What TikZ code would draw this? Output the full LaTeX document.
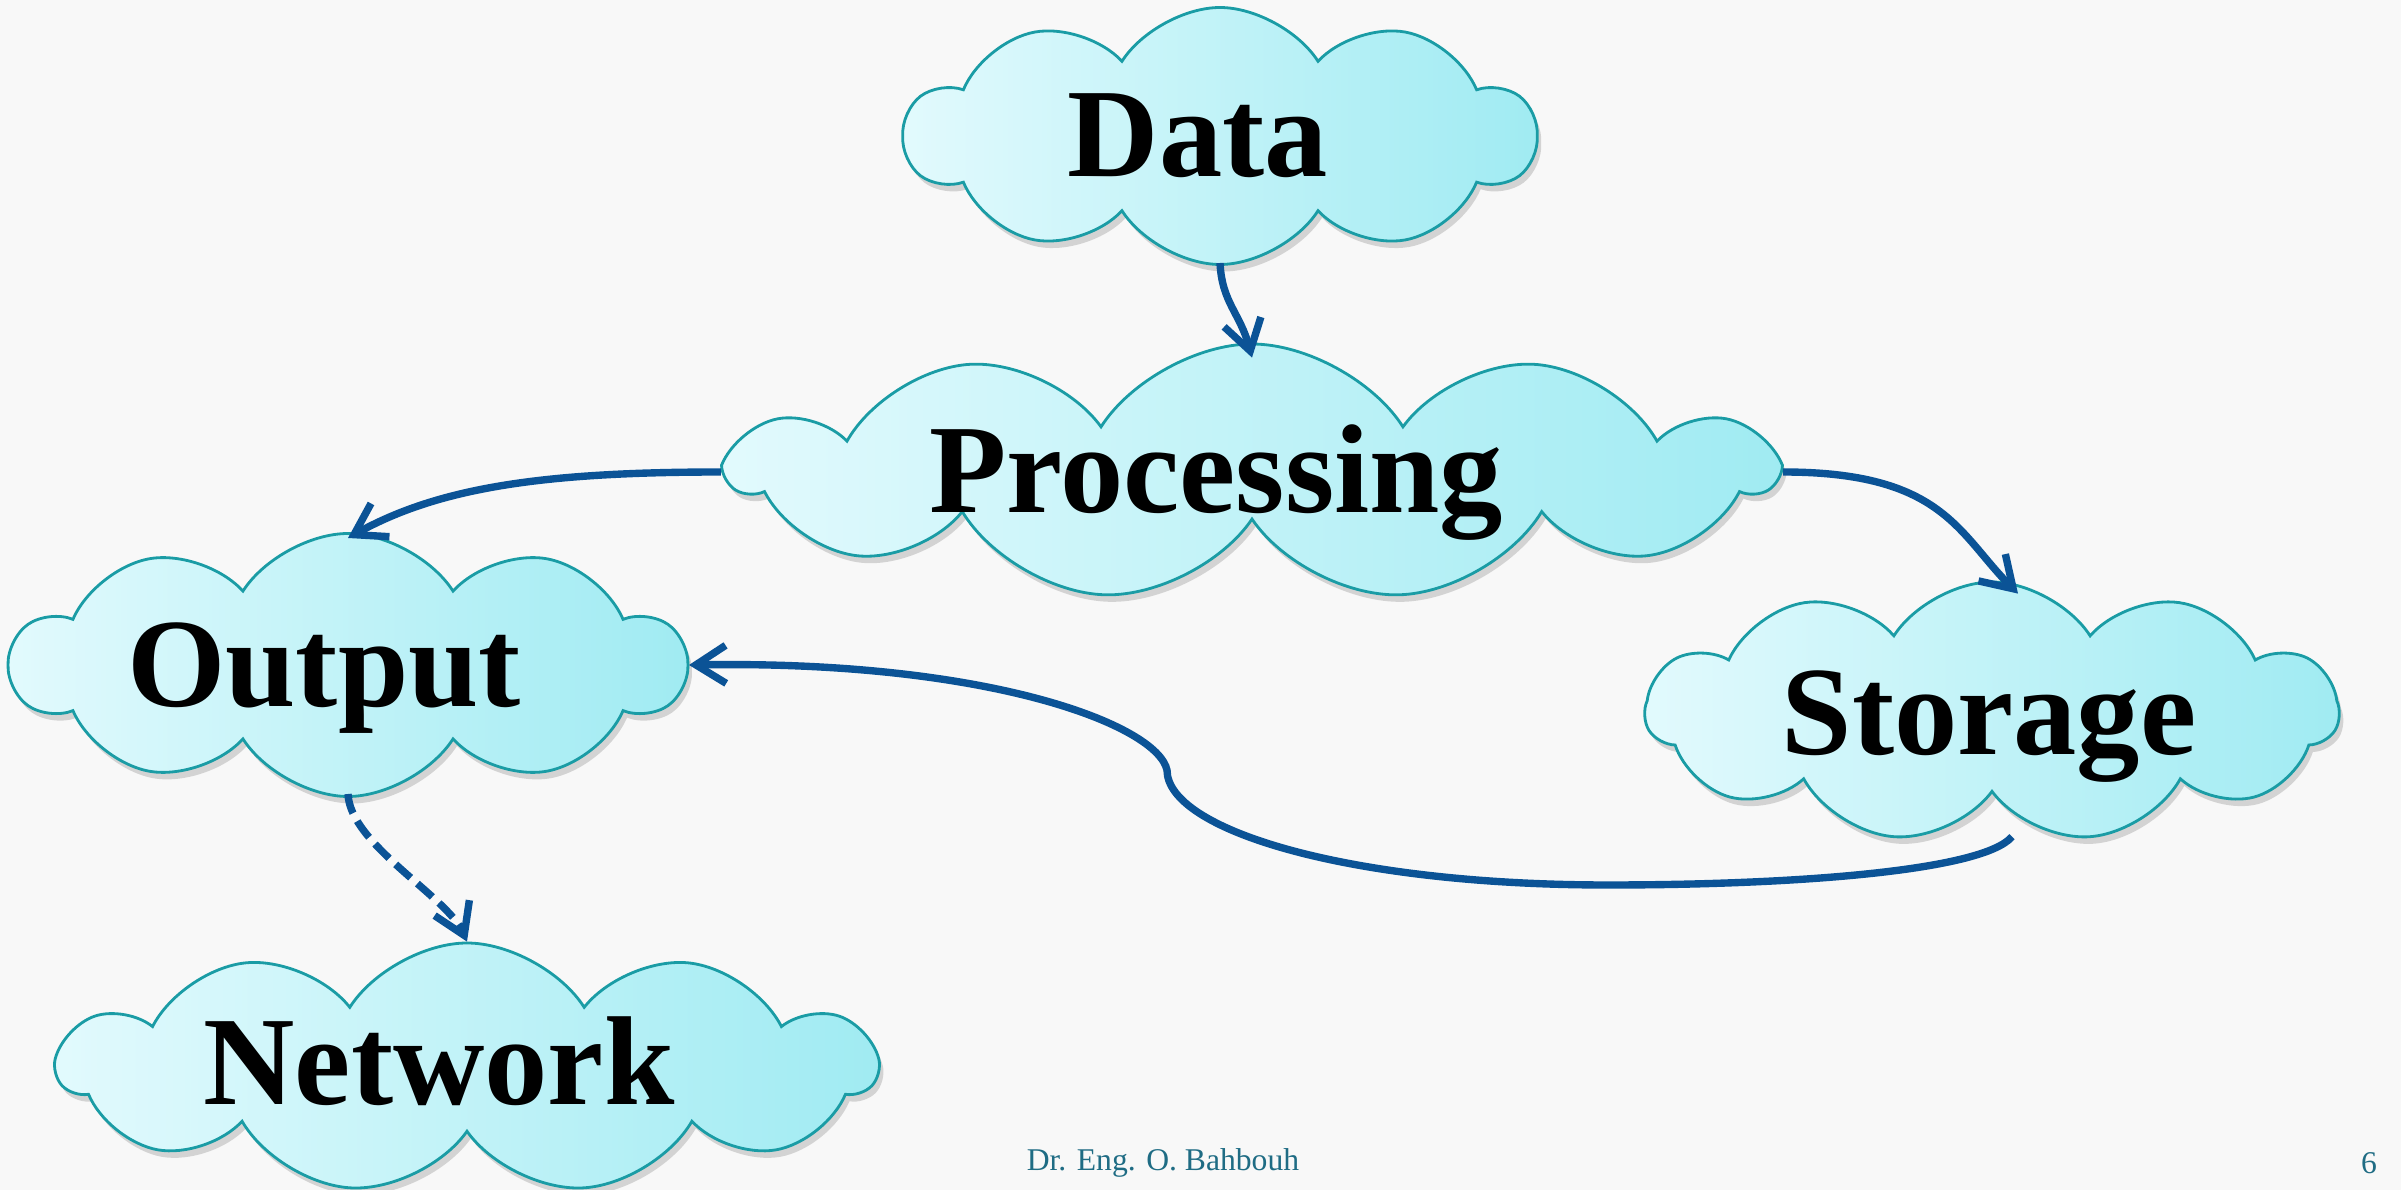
\documentclass[tikz,border=0pt]{standalone}
\usepackage{fontspec}
\setmainfont{Liberation Serif}
\usetikzlibrary{shapes.symbols,shadows,arrows.meta}
\definecolor{puffline}{HTML}{1A9CA5}
\definecolor{pufflight}{HTML}{E2FAFD}
\definecolor{puffdark}{HTML}{A0EBF2}
\definecolor{flowblue}{HTML}{0B5396}
\definecolor{footcol}{HTML}{1F6C84}
\definecolor{paper}{HTML}{F8F8F8}

\begin{document}
\begin{tikzpicture}[
  puff/.style={cloud, cloud puffs=11, cloud puff arc=115, cloud ignores aspect,
    draw=puffline, line width=0.8pt, left color=pufflight, right color=puffdark,
    drop shadow={shadow xshift=0.04cm, shadow yshift=-0.07cm, opacity=0.3},
    inner sep=0pt},
  word/.style={anchor=base, font=\fontsize{36}{40}\selectfont\bfseries},
  foot/.style={text=footcol, font=\fontsize{9}{11}\selectfont},
  flow/.style={draw=flowblue, line width=2.1pt,
    -{Straight Barb[length=3mm,width=3.8mm]}}]
  \fill[paper] (0,0) rectangle (24.01,-11.90);
  \useasboundingbox (0,0) rectangle (24.01,-11.90);
  % clouds
  \node[puff, cloud puffs=10, minimum width=6.3cm, minimum height=2.57cm] (data) at (12.20,-1.36) {};
  \node[puff, minimum width=10.43cm, minimum height=2.56cm] (proc) at (12.52,-4.72) {};
  \node[puff, cloud puffs=10, minimum width=6.73cm, minimum height=2.63cm] (output) at (3.48,-6.65) {};
  \node[puff, minimum width=6.93cm, minimum height=2.6cm] (storage) at (19.92,-7.12) {};
  \node[puff, minimum width=8.18cm, minimum height=2.5cm] (network) at (4.67,-10.68) {};
  % labels
  \node[word] (data-txt) at (11.98,-1.77) {Data};
  \node[word] (proc-txt) at (12.16,-5.13) {Processing};
  \node[word] (output-txt) at (3.24,-7.07) {Output};
  \node[word] (storage-txt) at (19.89,-7.55) {Storage};
  \node[word] (network-txt) at (4.39,-11.05) {Network};
  % connectors
  \coordinate (dip) at (16.08,-8.85);
  \coordinate (kink) at (11.67,-7.70);
  \draw[flow] ([yshift=-1.27cm]data.center) .. controls +(0.02,-0.4) and +(-0.12,0.45) .. ([yshift=-0.15cm]proc.north);
  \draw[flow] (proc.west) .. controls +(-1.8,0) and +(0.9,0.5) .. ([yshift=1.27cm]output.center);
  \draw[flow] (proc.east) .. controls +(1.6,0) and +(-0.6,0.6) .. ([xshift=0.26cm, yshift=-0.13cm]storage.north);
  \draw[flow] ([xshift=0.2cm, yshift=-0.43cm]storage.south) .. controls +(-0.3,-0.35) and +(1.8,0) .. (dip)
    .. controls +(-2.6,0) and +(0,-0.6) .. (kink)
    .. controls +(-0.1,0.45) and +(3.0,0.05) .. ([xshift=3.41cm]output.center);
  \draw[flow, dash pattern=on 0.2cm off 0.09cm] ([yshift=-1.29cm]output.center) .. controls +(0.02,-0.5) and +(-0.2,0.45) .. (network.north);
  % footer
  \node[foot] (author) at (11.63,-11.63) {Dr. Eng. O. Bahbouh};
  \node[foot] (page) at (23.69,-11.63) {6};
\end{tikzpicture}
\end{document}
